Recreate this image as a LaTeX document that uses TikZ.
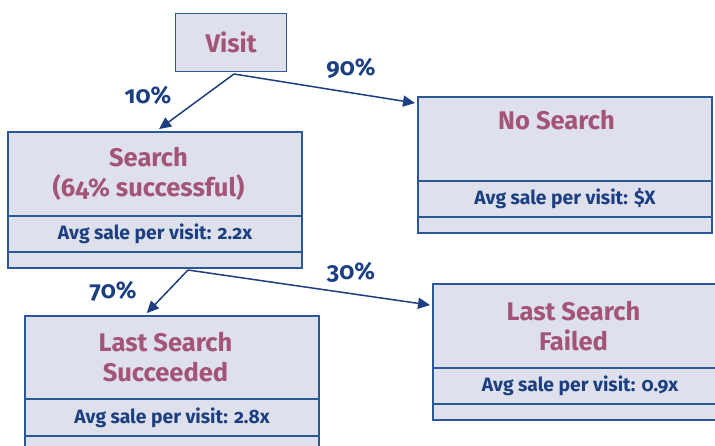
\documentclass[tikz,border=0pt]{standalone}
\usepackage{fontspec}
\setmainfont{Fira Sans}[Numbers=OldStyle]
\usetikzlibrary{arrows.meta,calc}
\definecolor{bord}{HTML}{2B5896}
\definecolor{boxfill}{HTML}{DEE0EC}
\definecolor{mauve}{HTML}{A35478}
\definecolor{navy}{HTML}{1B3F80}
\newcommand{\tline}[1]{#1\hspace*{13pt}}
\tikzset{
  titlebox/.style={draw=bord, fill=boxfill, line width=1.3pt, minimum width=294pt, minimum height=84pt,
    inner sep=0pt, outer sep=0pt, align=center, text=mauve, font=\bfseries\fontsize{25.5}{30}\selectfont, anchor=north west},
  avgbox/.style={draw=bord, fill=boxfill, line width=1.3pt, minimum width=294pt, minimum height=36pt,
    inner sep=0pt, outer sep=0pt, text=navy, font=\bfseries\fontsize{19.3}{22}\selectfont, anchor=north},
  endbox/.style={draw=bord, fill=boxfill, line width=1.3pt, minimum width=294pt, minimum height=16pt,
    inner sep=0pt, outer sep=0pt, anchor=north},
  pct/.style={text=navy, font=\bfseries\fontsize{24}{26}\selectfont, inner sep=0pt},
  arr/.style={draw=navy, line width=1.5pt, -{Triangle[length=12pt,width=11pt]}}
}
\begin{document}
\begin{tikzpicture}[x=1pt,y=-1pt]
\useasboundingbox (0,0) rectangle (715,445);
\clip (0,0) rectangle (715,445);
\fill[white] (0,0) rectangle (715,445);
% Visit
\node[draw=bord, fill=boxfill, line width=1.3pt, minimum width=111pt, minimum height=58pt, inner sep=0pt,
  anchor=north west, text=mauve, font=\bfseries\fontsize{25.5}{30}\selectfont] (visit) at (175,13) {Visit};
% Search
\node[titlebox] (search) at (8,132) {\tline{Search}\\\tline{(64\% successful)}};
\node[avgbox] (searchavg) at (search.south) {Avg sale per visit: 2.2x};
\node[endbox] (searchend) at (searchavg.south) {};
% No Search
\node[titlebox] (nosearch) at (418,97) {\tline{No Search}\hspace*{4pt}\\\strut};
\node[avgbox] (nosearchavg) at (nosearch.south) {Avg sale per visit: \$X};
\node[endbox] (nosearchend) at (nosearchavg.south) {};
% Last Search Succeeded
\node[titlebox, minimum height=83pt] (succ) at (25,316) {\tline{Last Search}\\\tline{Succeeded}};
\node[avgbox, minimum height=37pt] (succavg) at (succ.south) {Avg sale per visit: 2.8x};
\node[endbox] (succend) at (succavg.south) {};
% Last Search Failed
\node[titlebox] (fail) at (433,284) {\tline{Last Search}\\\tline{Failed}};
\node[avgbox] (failavg) at (fail.south) {Avg sale per visit: 0.9x};
\node[endbox] (failend) at (failavg.south) {};
% connectors
\coordinate (vs) at (234,74);
\coordinate (ss) at (188,270);
\coordinate (t90) at (418,103.5);
\coordinate (t30) at (433,305.5);
\coordinate (t70) at (144,316);
\draw[arr, shorten >=5pt] (vs) -- (search.north);
\draw[arr, shorten >=3pt] (vs) -- (t90);
\draw[arr, shorten >=4pt] (ss) -- (t70);
\draw[arr, shorten >=3pt] (ss) -- (t30);
% labels
\node[pct] (p10) at (148,95) {10\%};
\node[pct] (p90) at (351,68) {90\%};
\node[pct] (p70) at (113,291) {70\%};
\node[pct] (p30) at (351,272) {30\%};
\end{tikzpicture}
\end{document}
